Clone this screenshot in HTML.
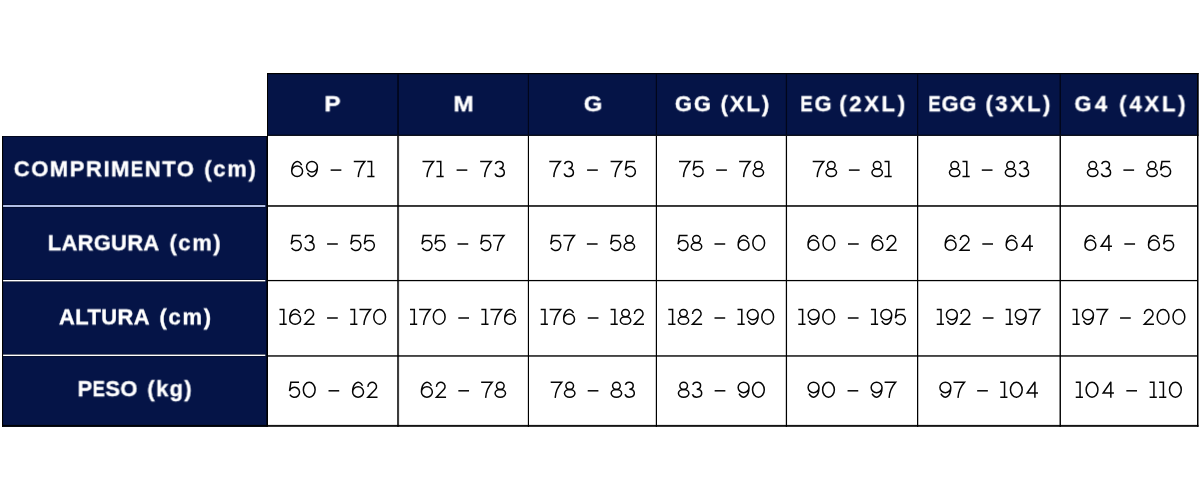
<!DOCTYPE html>
<html><head><meta charset="utf-8">
<style>
html,body{margin:0;padding:0;background:#fff;}
body{width:1200px;height:500px;position:relative;overflow:hidden;font-family:"Liberation Sans",sans-serif;}
.h{position:absolute;white-space:nowrap;transform-origin:0 50%;will-change:transform;color:#fff;font-weight:bold;font-size:22px;line-height:26px;-webkit-text-stroke:0.35px #fff;}
.n{position:absolute;white-space:nowrap;text-align:center;color:transparent;font-size:22px;line-height:26px;}
svg{position:absolute;left:0;top:0;}
.h b{display:inline-block;transform:scaleX(.84);transform-origin:0 50%;margin-right:-2.4px;}
</style></head><body>

<svg width="1200" height="500" viewBox="0 0 1200 500" shape-rendering="geometricPrecision"><rect x="267.00" y="73.00" width="931.50" height="62.75" fill="#051447"/><rect x="2.00" y="136.00" width="265.00" height="290.85" fill="#051447"/><rect x="267.00" y="73.00" width="931.50" height="1.20" fill="#000"/><rect x="267.00" y="134.75" width="931.50" height="1.00" fill="#000"/><rect x="397.20" y="74.20" width="1.70" height="60.55" fill="#00030f" fill-opacity="0.78"/><rect x="397.00" y="135.75" width="2.10" height="291.10" fill="#000" fill-opacity="0.76"/><rect x="527.85" y="74.20" width="1.15" height="60.55" fill="#00030f" fill-opacity="0.78"/><rect x="527.85" y="135.75" width="1.15" height="291.10" fill="#000"/><rect x="655.80" y="74.20" width="1.20" height="60.55" fill="#00030f" fill-opacity="0.78"/><rect x="655.80" y="135.75" width="1.20" height="291.10" fill="#000"/><rect x="785.80" y="74.20" width="1.25" height="60.55" fill="#00030f" fill-opacity="0.78"/><rect x="785.80" y="135.75" width="1.25" height="291.10" fill="#000"/><rect x="917.00" y="74.20" width="1.25" height="60.55" fill="#00030f" fill-opacity="0.78"/><rect x="917.00" y="135.75" width="1.25" height="291.10" fill="#000"/><rect x="1059.50" y="74.20" width="1.50" height="60.55" fill="#00030f" fill-opacity="0.78"/><rect x="1059.50" y="135.75" width="1.50" height="291.10" fill="#000" fill-opacity="0.95"/><rect x="2.00" y="136.00" width="265.00" height="0.80" fill="#000" fill-opacity="0.70"/><rect x="2.00" y="136.00" width="1.10" height="290.85" fill="#000"/><rect x="266.00" y="136.80" width="1.00" height="290.05" fill="#000" fill-opacity="0.60"/><rect x="267.00" y="73.00" width="1.00" height="353.85" fill="#000"/><rect x="1197.00" y="73.00" width="1.50" height="353.85" fill="#000"/><rect x="268.00" y="205.10" width="929.00" height="1.75" fill="#000" fill-opacity="0.88"/><rect x="268.00" y="279.95" width="929.00" height="1.25" fill="#000"/><rect x="268.00" y="355.10" width="929.00" height="1.70" fill="#000" fill-opacity="0.82"/><rect x="2.00" y="424.90" width="1196.50" height="1.95" fill="#000" fill-opacity="0.92"/><rect x="3.10" y="204.30" width="262.20" height="3.40" fill="#000" fill-opacity="0.45"/><rect x="3.10" y="205.00" width="262.20" height="2.00" fill="#b0bde6"/><rect x="3.10" y="279.30" width="262.20" height="2.80" fill="#000" fill-opacity="0.45"/><rect x="3.10" y="280.00" width="262.20" height="1.40" fill="#ffffff"/><rect x="3.10" y="353.90" width="262.20" height="2.80" fill="#000" fill-opacity="0.45"/><rect x="3.10" y="354.60" width="262.20" height="1.40" fill="#ffffff"/></svg>
<div class="h" style="left:324px;top:91px;transform:translate(0.36px,0.29px) rotate(.02deg) scaleX(1.1054)">P</div>
<div class="h" style="left:453px;top:91px;transform:translate(0.51px,0.29px) rotate(.02deg) scaleX(1.0980)">M</div>
<div class="h" style="left:583px;top:91px;transform:translate(0.82px,0.31px) rotate(.02deg) scaleX(1.0841)">G</div>
<div class="h" style="left:674px;top:91px;transform:translate(0.86px,0.30px) rotate(.02deg)"><span style="letter-spacing:1.88px">GG</span> <span style="margin-left:1.57px;letter-spacing:1.92px">(XL)</span></div>
<div class="h" style="left:800px;top:91px;transform:translate(0.31px,0.28px) rotate(.02deg)"><span style="letter-spacing:1.85px"><b>E</b>G</span> <span style="margin-left:-0.21px;letter-spacing:2.67px">(2XL)</span></div>
<div class="h" style="left:928px;top:91px;transform:translate(0.31px,0.28px) rotate(.02deg)"><span style="letter-spacing:0.83px"><b>E</b>GG</span> <span style="margin-left:2.21px;letter-spacing:2.42px">(3XL)</span></div>
<div class="h" style="left:1074px;top:91px;transform:translate(0.46px,0.31px) rotate(.02deg)"><span style="letter-spacing:3.46px">G4</span> <span style="margin-left:2.28px;letter-spacing:2.88px">(4XL)</span></div>
<div class="h" style="left:13px;top:156px;transform:translate(0.77px,0.32px) rotate(.02deg)"><span style="letter-spacing:1.55px">COMPRIM<b>E</b>NTO</span> <span style="margin-left:2.52px;letter-spacing:1.78px">(cm)</span></div>
<div class="h" style="left:47px;top:230px;transform:translate(0.78px,0.33px) rotate(.02deg)"><span style="letter-spacing:0.25px">LARGURA</span> <span style="margin-left:3.85px;letter-spacing:1.58px">(cm)</span></div>
<div class="h" style="left:58px;top:304px;transform:translate(0.95px,0.41px) rotate(.02deg)"><span style="letter-spacing:0.37px">ALTURA</span> <span style="margin-left:3.24px;letter-spacing:1.76px">(cm)</span></div>
<div class="h" style="left:77px;top:376px;transform:translate(0.58px,0.19px) rotate(.02deg)"><span style="letter-spacing:0.39px">P<b>E</b>SO</span> <span style="margin-left:3.19px;letter-spacing:1.40px">(kg)</span></div>
<div class="n" style="left:267.0px;top:155.5px;width:131.0px">69 – 71</div>
<div class="n" style="left:398.0px;top:155.5px;width:130.2px">71 – 73</div>
<div class="n" style="left:528.2px;top:155.5px;width:128.0px">73 – 75</div>
<div class="n" style="left:656.2px;top:155.5px;width:130.0px">75 – 78</div>
<div class="n" style="left:786.2px;top:155.5px;width:131.2px">78 – 81</div>
<div class="n" style="left:917.5px;top:155.5px;width:142.5px">81 – 83</div>
<div class="n" style="left:1060.0px;top:155.5px;width:138.0px">83 – 85</div>
<div class="n" style="left:267.0px;top:229.4px;width:131.0px">53 – 55</div>
<div class="n" style="left:398.0px;top:229.4px;width:130.2px">55 – 57</div>
<div class="n" style="left:528.2px;top:229.4px;width:128.0px">57 – 58</div>
<div class="n" style="left:656.2px;top:229.4px;width:130.0px">58 – 60</div>
<div class="n" style="left:786.2px;top:229.4px;width:131.2px">60 – 62</div>
<div class="n" style="left:917.5px;top:229.4px;width:142.5px">62 – 64</div>
<div class="n" style="left:1060.0px;top:229.4px;width:138.0px">64 – 65</div>
<div class="n" style="left:267.0px;top:303.4px;width:131.0px">162 – 170</div>
<div class="n" style="left:398.0px;top:303.4px;width:130.2px">170 – 176</div>
<div class="n" style="left:528.2px;top:303.4px;width:128.0px">176 – 182</div>
<div class="n" style="left:656.2px;top:303.4px;width:130.0px">182 – 190</div>
<div class="n" style="left:786.2px;top:303.4px;width:131.2px">190 – 195</div>
<div class="n" style="left:917.5px;top:303.4px;width:142.5px">192 – 197</div>
<div class="n" style="left:1060.0px;top:303.4px;width:138.0px">197 – 200</div>
<div class="n" style="left:267.0px;top:376.2px;width:131.0px">50 – 62</div>
<div class="n" style="left:398.0px;top:376.2px;width:130.2px">62 – 78</div>
<div class="n" style="left:528.2px;top:376.2px;width:128.0px">78 – 83</div>
<div class="n" style="left:656.2px;top:376.2px;width:130.0px">83 – 90</div>
<div class="n" style="left:786.2px;top:376.2px;width:131.2px">90 – 97</div>
<div class="n" style="left:917.5px;top:376.2px;width:142.5px">97 – 104</div>
<div class="n" style="left:1060.0px;top:376.2px;width:138.0px">104 – 110</div>
<svg width="1200" height="500" viewBox="0 0 1200 500"><g fill="none" stroke="#050505" stroke-width="1.5"><g transform="translate(291.00 160.85)"><path d="M10.6 4.23A5.58 9.68 0 0 0 0.72 10.4A5.43 5.2 0 1 0 11.58 10.4A5.43 5.2 0 1 0 0.72 10.4"/></g><g transform="translate(306.12 160.85)"><path transform="rotate(180 6 8.15)" d="M10.6 4.23A5.58 9.68 0 0 0 0.72 10.4A5.43 5.2 0 1 0 11.58 10.4A5.43 5.2 0 1 0 0.72 10.4" /></g><g transform="translate(330.65 160.85)"><path d="M0 9.25H10.7"/></g><g transform="translate(353.78 160.85)"><path d="M0 0.72H11.0Q5.0 7.5 4.5 16.3" stroke-linejoin="miter"/></g><g transform="translate(367.30 160.85)"><path d="M0 0.72H4.3V15.58M0 15.58H7.2" stroke-linejoin="miter"/></g><g transform="translate(422.50 160.85)"><path d="M0 0.72H11.0Q5.0 7.5 4.5 16.3" stroke-linejoin="miter"/></g><g transform="translate(436.45 160.85)"><path d="M0 0.72H4.3V15.58M0 15.58H7.2" stroke-linejoin="miter"/></g><g transform="translate(456.60 160.85)"><path d="M0 9.25H10.7"/></g><g transform="translate(480.15 160.85)"><path d="M0 0.72H11.0Q5.0 7.5 4.5 16.3" stroke-linejoin="miter"/></g><g transform="translate(494.20 160.85)"><path d="M1.3 3.3A3.9 3.45 0 1 1 5.1 7.6H5.6A4.7 4 0 1 1 0.86 12.64"/></g><g transform="translate(549.30 160.85)"><path d="M0 0.72H11.0Q5.0 7.5 4.5 16.3" stroke-linejoin="miter"/></g><g transform="translate(563.30 160.85)"><path d="M1.3 3.3A3.9 3.45 0 1 1 5.1 7.6H5.6A4.7 4 0 1 1 0.86 12.64"/></g><g transform="translate(587.10 160.85)"><path d="M0 9.25H10.7"/></g><g transform="translate(610.60 160.85)"><path d="M0 0.72H11.0Q5.0 7.5 4.5 16.3" stroke-linejoin="miter"/></g><g transform="translate(624.60 160.85)"><path d="M10.3 0.72H2.1L0.75 9.5A5.1 5 0 1 1 1.18 13.1"/></g><g transform="translate(679.00 160.85)"><path d="M0 0.72H11.0Q5.0 7.5 4.5 16.3" stroke-linejoin="miter"/></g><g transform="translate(692.40 160.85)"><path d="M10.3 0.72H2.1L0.75 9.5A5.1 5 0 1 1 1.18 13.1"/></g><g transform="translate(716.20 160.85)"><path d="M0 9.25H10.7"/></g><g transform="translate(739.10 160.85)"><path d="M0 0.72H11.0Q5.0 7.5 4.5 16.3" stroke-linejoin="miter"/></g><g transform="translate(752.40 160.85)"><ellipse cx="5.95" cy="4.3" rx="3.8" ry="3.6"/><ellipse cx="5.95" cy="11.75" rx="5.23" ry="3.85"/></g><g transform="translate(812.70 160.85)"><path d="M0 0.72H11.0Q5.0 7.5 4.5 16.3" stroke-linejoin="miter"/></g><g transform="translate(825.35 160.85)"><ellipse cx="5.95" cy="4.3" rx="3.8" ry="3.6"/><ellipse cx="5.95" cy="11.75" rx="5.23" ry="3.85"/></g><g transform="translate(848.90 160.85)"><path d="M0 9.25H10.7"/></g><g transform="translate(871.25 160.85)"><ellipse cx="5.95" cy="4.3" rx="3.8" ry="3.6"/><ellipse cx="5.95" cy="11.75" rx="5.23" ry="3.85"/></g><g transform="translate(884.50 160.85)"><path d="M0 0.72H4.3V15.58M0 15.58H7.2" stroke-linejoin="miter"/></g><g transform="translate(948.75 160.85)"><ellipse cx="5.95" cy="4.3" rx="3.8" ry="3.6"/><ellipse cx="5.95" cy="11.75" rx="5.23" ry="3.85"/></g><g transform="translate(962.48 160.85)"><path d="M0 0.72H4.3V15.58M0 15.58H7.2" stroke-linejoin="miter"/></g><g transform="translate(981.80 160.85)"><path d="M0 9.25H10.7"/></g><g transform="translate(1004.62 160.85)"><ellipse cx="5.95" cy="4.3" rx="3.8" ry="3.6"/><ellipse cx="5.95" cy="11.75" rx="5.23" ry="3.85"/></g><g transform="translate(1018.45 160.85)"><path d="M1.3 3.3A3.9 3.45 0 1 1 5.1 7.6H5.6A4.7 4 0 1 1 0.86 12.64"/></g><g transform="translate(1086.75 160.85)"><ellipse cx="5.95" cy="4.3" rx="3.8" ry="3.6"/><ellipse cx="5.95" cy="11.75" rx="5.23" ry="3.85"/></g><g transform="translate(1100.47 160.85)"><path d="M1.3 3.3A3.9 3.45 0 1 1 5.1 7.6H5.6A4.7 4 0 1 1 0.86 12.64"/></g><g transform="translate(1123.40 160.85)"><path d="M0 9.25H10.7"/></g><g transform="translate(1146.12 160.85)"><ellipse cx="5.95" cy="4.3" rx="3.8" ry="3.6"/><ellipse cx="5.95" cy="11.75" rx="5.23" ry="3.85"/></g><g transform="translate(1159.85 160.85)"><path d="M10.3 0.72H2.1L0.75 9.5A5.1 5 0 1 1 1.18 13.1"/></g><g transform="translate(290.50 234.75)"><path d="M10.3 0.72H2.1L0.75 9.5A5.1 5 0 1 1 1.18 13.1"/></g><g transform="translate(304.00 234.75)"><path d="M1.3 3.3A3.9 3.45 0 1 1 5.1 7.6H5.6A4.7 4 0 1 1 0.86 12.64"/></g><g transform="translate(327.10 234.75)"><path d="M0 9.25H10.7"/></g><g transform="translate(350.10 234.75)"><path d="M10.3 0.72H2.1L0.75 9.5A5.1 5 0 1 1 1.18 13.1"/></g><g transform="translate(363.60 234.75)"><path d="M10.3 0.72H2.1L0.75 9.5A5.1 5 0 1 1 1.18 13.1"/></g><g transform="translate(421.25 234.75)"><path d="M10.3 0.72H2.1L0.75 9.5A5.1 5 0 1 1 1.18 13.1"/></g><g transform="translate(434.29 234.75)"><path d="M10.3 0.72H2.1L0.75 9.5A5.1 5 0 1 1 1.18 13.1"/></g><g transform="translate(457.52 234.75)"><path d="M0 9.25H10.7"/></g><g transform="translate(480.06 234.75)"><path d="M10.3 0.72H2.1L0.75 9.5A5.1 5 0 1 1 1.18 13.1"/></g><g transform="translate(492.90 234.75)"><path d="M0 0.72H11.0Q5.0 7.5 4.5 16.3" stroke-linejoin="miter"/></g><g transform="translate(550.00 234.75)"><path d="M10.3 0.72H2.1L0.75 9.5A5.1 5 0 1 1 1.18 13.1"/></g><g transform="translate(563.35 234.75)"><path d="M0 0.72H11.0Q5.0 7.5 4.5 16.3" stroke-linejoin="miter"/></g><g transform="translate(586.90 234.75)"><path d="M0 9.25H10.7"/></g><g transform="translate(609.95 234.75)"><path d="M10.3 0.72H2.1L0.75 9.5A5.1 5 0 1 1 1.18 13.1"/></g><g transform="translate(623.40 234.75)"><ellipse cx="5.95" cy="4.3" rx="3.8" ry="3.6"/><ellipse cx="5.95" cy="11.75" rx="5.23" ry="3.85"/></g><g transform="translate(677.30 234.75)"><path d="M10.3 0.72H2.1L0.75 9.5A5.1 5 0 1 1 1.18 13.1"/></g><g transform="translate(690.55 234.75)"><ellipse cx="5.95" cy="4.3" rx="3.8" ry="3.6"/><ellipse cx="5.95" cy="11.75" rx="5.23" ry="3.85"/></g><g transform="translate(714.50 234.75)"><path d="M0 9.25H10.7"/></g><g transform="translate(737.45 234.75)"><path d="M10.6 4.23A5.58 9.68 0 0 0 0.72 10.4A5.43 5.2 0 1 0 11.58 10.4A5.43 5.2 0 1 0 0.72 10.4"/></g><g transform="translate(752.10 234.75)"><ellipse cx="6.6" cy="8.15" rx="5.88" ry="7.43"/></g><g transform="translate(807.30 234.75)"><path d="M10.6 4.23A5.58 9.68 0 0 0 0.72 10.4A5.43 5.2 0 1 0 11.58 10.4A5.43 5.2 0 1 0 0.72 10.4"/></g><g transform="translate(822.25 234.75)"><ellipse cx="6.6" cy="8.15" rx="5.88" ry="7.43"/></g><g transform="translate(848.00 234.75)"><path d="M0 9.25H10.7"/></g><g transform="translate(871.25 234.75)"><path d="M10.6 4.23A5.58 9.68 0 0 0 0.72 10.4A5.43 5.2 0 1 0 11.58 10.4A5.43 5.2 0 1 0 0.72 10.4"/></g><g transform="translate(886.20 234.75)"><path d="M0.97 5.3A4.28 4.28 0 1 1 8.28 8.03L0.9 15.58H10.5"/></g><g transform="translate(944.50 234.75)"><path d="M10.6 4.23A5.58 9.68 0 0 0 0.72 10.4A5.43 5.2 0 1 0 11.58 10.4A5.43 5.2 0 1 0 0.72 10.4"/></g><g transform="translate(959.40 234.75)"><path d="M0.97 5.3A4.28 4.28 0 1 1 8.28 8.03L0.9 15.58H10.5"/></g><g transform="translate(982.30 234.75)"><path d="M0 9.25H10.7"/></g><g transform="translate(1005.50 234.75)"><path d="M10.6 4.23A5.58 9.68 0 0 0 0.72 10.4A5.43 5.2 0 1 0 11.58 10.4A5.43 5.2 0 1 0 0.72 10.4"/></g><g transform="translate(1020.70 234.75)"><path d="M9.2 16.3V0.3L1.5 11.5H12.3" stroke-linejoin="miter" stroke-miterlimit="3"/></g><g transform="translate(1084.25 234.75)"><path d="M10.6 4.23A5.58 9.68 0 0 0 0.72 10.4A5.43 5.2 0 1 0 11.58 10.4A5.43 5.2 0 1 0 0.72 10.4"/></g><g transform="translate(1099.70 234.75)"><path d="M9.2 16.3V0.3L1.5 11.5H12.3" stroke-linejoin="miter" stroke-miterlimit="3"/></g><g transform="translate(1124.35 234.75)"><path d="M0 9.25H10.7"/></g><g transform="translate(1147.80 234.75)"><path d="M10.6 4.23A5.58 9.68 0 0 0 0.72 10.4A5.43 5.2 0 1 0 11.58 10.4A5.43 5.2 0 1 0 0.72 10.4"/></g><g transform="translate(1162.85 234.75)"><path d="M10.3 0.72H2.1L0.75 9.5A5.1 5 0 1 1 1.18 13.1"/></g><g transform="translate(279.50 308.75)"><path d="M0 0.72H4.3V15.58M0 15.58H7.2" stroke-linejoin="miter"/></g><g transform="translate(289.02 308.75)"><path d="M10.6 4.23A5.58 9.68 0 0 0 0.72 10.4A5.43 5.2 0 1 0 11.58 10.4A5.43 5.2 0 1 0 0.72 10.4"/></g><g transform="translate(304.05 308.75)"><path d="M0.97 5.3A4.28 4.28 0 1 1 8.28 8.03L0.9 15.58H10.5"/></g><g transform="translate(327.07 308.75)"><path d="M0 9.25H10.7"/></g><g transform="translate(350.20 308.75)"><path d="M0 0.72H4.3V15.58M0 15.58H7.2" stroke-linejoin="miter"/></g><g transform="translate(359.43 308.75)"><path d="M0 0.72H11.0Q5.0 7.5 4.5 16.3" stroke-linejoin="miter"/></g><g transform="translate(373.05 308.75)"><ellipse cx="6.6" cy="8.15" rx="5.88" ry="7.43"/></g><g transform="translate(410.00 308.75)"><path d="M0 0.72H4.3V15.58M0 15.58H7.2" stroke-linejoin="miter"/></g><g transform="translate(419.11 308.75)"><path d="M0 0.72H11.0Q5.0 7.5 4.5 16.3" stroke-linejoin="miter"/></g><g transform="translate(432.62 308.75)"><ellipse cx="6.6" cy="8.15" rx="5.88" ry="7.43"/></g><g transform="translate(458.32 308.75)"><path d="M0 9.25H10.7"/></g><g transform="translate(481.33 308.75)"><path d="M0 0.72H4.3V15.58M0 15.58H7.2" stroke-linejoin="miter"/></g><g transform="translate(490.44 308.75)"><path d="M0 0.72H11.0Q5.0 7.5 4.5 16.3" stroke-linejoin="miter"/></g><g transform="translate(503.95 308.75)"><path d="M10.6 4.23A5.58 9.68 0 0 0 0.72 10.4A5.43 5.2 0 1 0 11.58 10.4A5.43 5.2 0 1 0 0.72 10.4"/></g><g transform="translate(540.70 308.75)"><path d="M0 0.72H4.3V15.58M0 15.58H7.2" stroke-linejoin="miter"/></g><g transform="translate(549.62 308.75)"><path d="M0 0.72H11.0Q5.0 7.5 4.5 16.3" stroke-linejoin="miter"/></g><g transform="translate(562.93 308.75)"><path d="M10.6 4.23A5.58 9.68 0 0 0 0.72 10.4A5.43 5.2 0 1 0 11.58 10.4A5.43 5.2 0 1 0 0.72 10.4"/></g><g transform="translate(587.75 308.75)"><path d="M0 9.25H10.7"/></g><g transform="translate(610.57 308.75)"><path d="M0 0.72H4.3V15.58M0 15.58H7.2" stroke-linejoin="miter"/></g><g transform="translate(619.58 308.75)"><ellipse cx="5.95" cy="4.3" rx="3.8" ry="3.6"/><ellipse cx="5.95" cy="11.75" rx="5.23" ry="3.85"/></g><g transform="translate(633.50 308.75)"><path d="M0.97 5.3A4.28 4.28 0 1 1 8.28 8.03L0.9 15.58H10.5"/></g><g transform="translate(668.30 308.75)"><path d="M0 0.72H4.3V15.58M0 15.58H7.2" stroke-linejoin="miter"/></g><g transform="translate(677.50 308.75)"><ellipse cx="5.95" cy="4.3" rx="3.8" ry="3.6"/><ellipse cx="5.95" cy="11.75" rx="5.23" ry="3.85"/></g><g transform="translate(691.60 308.75)"><path d="M0.97 5.3A4.28 4.28 0 1 1 8.28 8.03L0.9 15.58H10.5"/></g><g transform="translate(714.50 308.75)"><path d="M0 9.25H10.7"/></g><g transform="translate(737.50 308.75)"><path d="M0 0.72H4.3V15.58M0 15.58H7.2" stroke-linejoin="miter"/></g><g transform="translate(746.90 308.75)"><path transform="rotate(180 6 8.15)" d="M10.6 4.23A5.58 9.68 0 0 0 0.72 10.4A5.43 5.2 0 1 0 11.58 10.4A5.43 5.2 0 1 0 0.72 10.4" /></g><g transform="translate(761.10 308.75)"><ellipse cx="6.6" cy="8.15" rx="5.88" ry="7.43"/></g><g transform="translate(798.30 308.75)"><path d="M0 0.72H4.3V15.58M0 15.58H7.2" stroke-linejoin="miter"/></g><g transform="translate(807.78 308.75)"><path transform="rotate(180 6 8.15)" d="M10.6 4.23A5.58 9.68 0 0 0 0.72 10.4A5.43 5.2 0 1 0 11.58 10.4A5.43 5.2 0 1 0 0.72 10.4" /></g><g transform="translate(822.07 308.75)"><ellipse cx="6.6" cy="8.15" rx="5.88" ry="7.43"/></g><g transform="translate(847.85 308.75)"><path d="M0 9.25H10.7"/></g><g transform="translate(870.93 308.75)"><path d="M0 0.72H4.3V15.58M0 15.58H7.2" stroke-linejoin="miter"/></g><g transform="translate(880.42 308.75)"><path transform="rotate(180 6 8.15)" d="M10.6 4.23A5.58 9.68 0 0 0 0.72 10.4A5.43 5.2 0 1 0 11.58 10.4A5.43 5.2 0 1 0 0.72 10.4" /></g><g transform="translate(894.60 308.75)"><path d="M10.3 0.72H2.1L0.75 9.5A5.1 5 0 1 1 1.18 13.1"/></g><g transform="translate(936.75 308.75)"><path d="M0 0.72H4.3V15.58M0 15.58H7.2" stroke-linejoin="miter"/></g><g transform="translate(946.00 308.75)"><path transform="rotate(180 6 8.15)" d="M10.6 4.23A5.58 9.68 0 0 0 0.72 10.4A5.43 5.2 0 1 0 11.58 10.4A5.43 5.2 0 1 0 0.72 10.4" /></g><g transform="translate(960.05 308.75)"><path d="M0.97 5.3A4.28 4.28 0 1 1 8.28 8.03L0.9 15.58H10.5"/></g><g transform="translate(982.80 308.75)"><path d="M0 9.25H10.7"/></g><g transform="translate(1005.65 308.75)"><path d="M0 0.72H4.3V15.58M0 15.58H7.2" stroke-linejoin="miter"/></g><g transform="translate(1014.90 308.75)"><path transform="rotate(180 6 8.15)" d="M10.6 4.23A5.58 9.68 0 0 0 0.72 10.4A5.43 5.2 0 1 0 11.58 10.4A5.43 5.2 0 1 0 0.72 10.4" /></g><g transform="translate(1028.65 308.75)"><path d="M0 0.72H11.0Q5.0 7.5 4.5 16.3" stroke-linejoin="miter"/></g><g transform="translate(1072.50 308.75)"><path d="M0 0.72H4.3V15.58M0 15.58H7.2" stroke-linejoin="miter"/></g><g transform="translate(1082.12 308.75)"><path transform="rotate(180 6 8.15)" d="M10.6 4.23A5.58 9.68 0 0 0 0.72 10.4A5.43 5.2 0 1 0 11.58 10.4A5.43 5.2 0 1 0 0.72 10.4" /></g><g transform="translate(1096.23 308.75)"><path d="M0 0.72H11.0Q5.0 7.5 4.5 16.3" stroke-linejoin="miter"/></g><g transform="translate(1120.05 308.75)"><path d="M0 9.25H10.7"/></g><g transform="translate(1143.47 308.75)"><path d="M0.97 5.3A4.28 4.28 0 1 1 8.28 8.03L0.9 15.58H10.5"/></g><g transform="translate(1156.48 308.75)"><ellipse cx="6.6" cy="8.15" rx="5.88" ry="7.43"/></g><g transform="translate(1172.30 308.75)"><ellipse cx="6.6" cy="8.15" rx="5.88" ry="7.43"/></g><g transform="translate(288.75 381.55)"><path d="M10.3 0.72H2.1L0.75 9.5A5.1 5 0 1 1 1.18 13.1"/></g><g transform="translate(302.64 381.55)"><ellipse cx="6.6" cy="8.15" rx="5.88" ry="7.43"/></g><g transform="translate(328.52 381.55)"><path d="M0 9.25H10.7"/></g><g transform="translate(351.91 381.55)"><path d="M10.6 4.23A5.58 9.68 0 0 0 0.72 10.4A5.43 5.2 0 1 0 11.58 10.4A5.43 5.2 0 1 0 0.72 10.4"/></g><g transform="translate(367.00 381.55)"><path d="M0.97 5.3A4.28 4.28 0 1 1 8.28 8.03L0.9 15.58H10.5"/></g><g transform="translate(420.75 381.55)"><path d="M10.6 4.23A5.58 9.68 0 0 0 0.72 10.4A5.43 5.2 0 1 0 11.58 10.4A5.43 5.2 0 1 0 0.72 10.4"/></g><g transform="translate(435.55 381.55)"><path d="M0.97 5.3A4.28 4.28 0 1 1 8.28 8.03L0.9 15.58H10.5"/></g><g transform="translate(458.35 381.55)"><path d="M0 9.25H10.7"/></g><g transform="translate(481.15 381.55)"><path d="M0 0.72H11.0Q5.0 7.5 4.5 16.3" stroke-linejoin="miter"/></g><g transform="translate(494.35 381.55)"><ellipse cx="5.95" cy="4.3" rx="3.8" ry="3.6"/><ellipse cx="5.95" cy="11.75" rx="5.23" ry="3.85"/></g><g transform="translate(550.70 381.55)"><path d="M0 0.72H11.0Q5.0 7.5 4.5 16.3" stroke-linejoin="miter"/></g><g transform="translate(563.75 381.55)"><ellipse cx="5.95" cy="4.3" rx="3.8" ry="3.6"/><ellipse cx="5.95" cy="11.75" rx="5.23" ry="3.85"/></g><g transform="translate(587.70 381.55)"><path d="M0 9.25H10.7"/></g><g transform="translate(610.45 381.55)"><ellipse cx="5.95" cy="4.3" rx="3.8" ry="3.6"/><ellipse cx="5.95" cy="11.75" rx="5.23" ry="3.85"/></g><g transform="translate(624.20 381.55)"><path d="M1.3 3.3A3.9 3.45 0 1 1 5.1 7.6H5.6A4.7 4 0 1 1 0.86 12.64"/></g><g transform="translate(677.70 381.55)"><ellipse cx="5.95" cy="4.3" rx="3.8" ry="3.6"/><ellipse cx="5.95" cy="11.75" rx="5.23" ry="3.85"/></g><g transform="translate(691.58 381.55)"><path d="M1.3 3.3A3.9 3.45 0 1 1 5.1 7.6H5.6A4.7 4 0 1 1 0.86 12.64"/></g><g transform="translate(714.65 381.55)"><path d="M0 9.25H10.7"/></g><g transform="translate(737.73 381.55)"><path transform="rotate(180 6 8.15)" d="M10.6 4.23A5.58 9.68 0 0 0 0.72 10.4A5.43 5.2 0 1 0 11.58 10.4A5.43 5.2 0 1 0 0.72 10.4" /></g><g transform="translate(751.80 381.55)"><ellipse cx="6.6" cy="8.15" rx="5.88" ry="7.43"/></g><g transform="translate(807.70 381.55)"><path transform="rotate(180 6 8.15)" d="M10.6 4.23A5.58 9.68 0 0 0 0.72 10.4A5.43 5.2 0 1 0 11.58 10.4A5.43 5.2 0 1 0 0.72 10.4" /></g><g transform="translate(821.88 381.55)"><ellipse cx="6.6" cy="8.15" rx="5.88" ry="7.43"/></g><g transform="translate(847.55 381.55)"><path d="M0 9.25H10.7"/></g><g transform="translate(870.73 381.55)"><path transform="rotate(180 6 8.15)" d="M10.6 4.23A5.58 9.68 0 0 0 0.72 10.4A5.43 5.2 0 1 0 11.58 10.4A5.43 5.2 0 1 0 0.72 10.4" /></g><g transform="translate(884.60 381.55)"><path d="M0 0.72H11.0Q5.0 7.5 4.5 16.3" stroke-linejoin="miter"/></g><g transform="translate(939.50 381.55)"><path transform="rotate(180 6 8.15)" d="M10.6 4.23A5.58 9.68 0 0 0 0.72 10.4A5.43 5.2 0 1 0 11.58 10.4A5.43 5.2 0 1 0 0.72 10.4" /></g><g transform="translate(953.48 381.55)"><path d="M0 0.72H11.0Q5.0 7.5 4.5 16.3" stroke-linejoin="miter"/></g><g transform="translate(977.16 381.55)"><path d="M0 9.25H10.7"/></g><g transform="translate(1000.24 381.55)"><path d="M0 0.72H4.3V15.58M0 15.58H7.2" stroke-linejoin="miter"/></g><g transform="translate(1009.72 381.55)"><ellipse cx="6.6" cy="8.15" rx="5.88" ry="7.43"/></g><g transform="translate(1025.70 381.55)"><path d="M9.2 16.3V0.3L1.5 11.5H12.3" stroke-linejoin="miter" stroke-miterlimit="3"/></g><g transform="translate(1075.75 381.55)"><path d="M0 0.72H4.3V15.58M0 15.58H7.2" stroke-linejoin="miter"/></g><g transform="translate(1085.44 381.55)"><ellipse cx="6.6" cy="8.15" rx="5.88" ry="7.43"/></g><g transform="translate(1101.63 381.55)"><path d="M9.2 16.3V0.3L1.5 11.5H12.3" stroke-linejoin="miter" stroke-miterlimit="3"/></g><g transform="translate(1126.33 381.55)"><path d="M0 9.25H10.7"/></g><g transform="translate(1149.62 381.55)"><path d="M0 0.72H4.3V15.58M0 15.58H7.2" stroke-linejoin="miter"/></g><g transform="translate(1159.11 381.55)"><path d="M0 0.72H4.3V15.58M0 15.58H7.2" stroke-linejoin="miter"/></g><g transform="translate(1168.80 381.55)"><ellipse cx="6.6" cy="8.15" rx="5.88" ry="7.43"/></g></g></svg>
</body></html>
